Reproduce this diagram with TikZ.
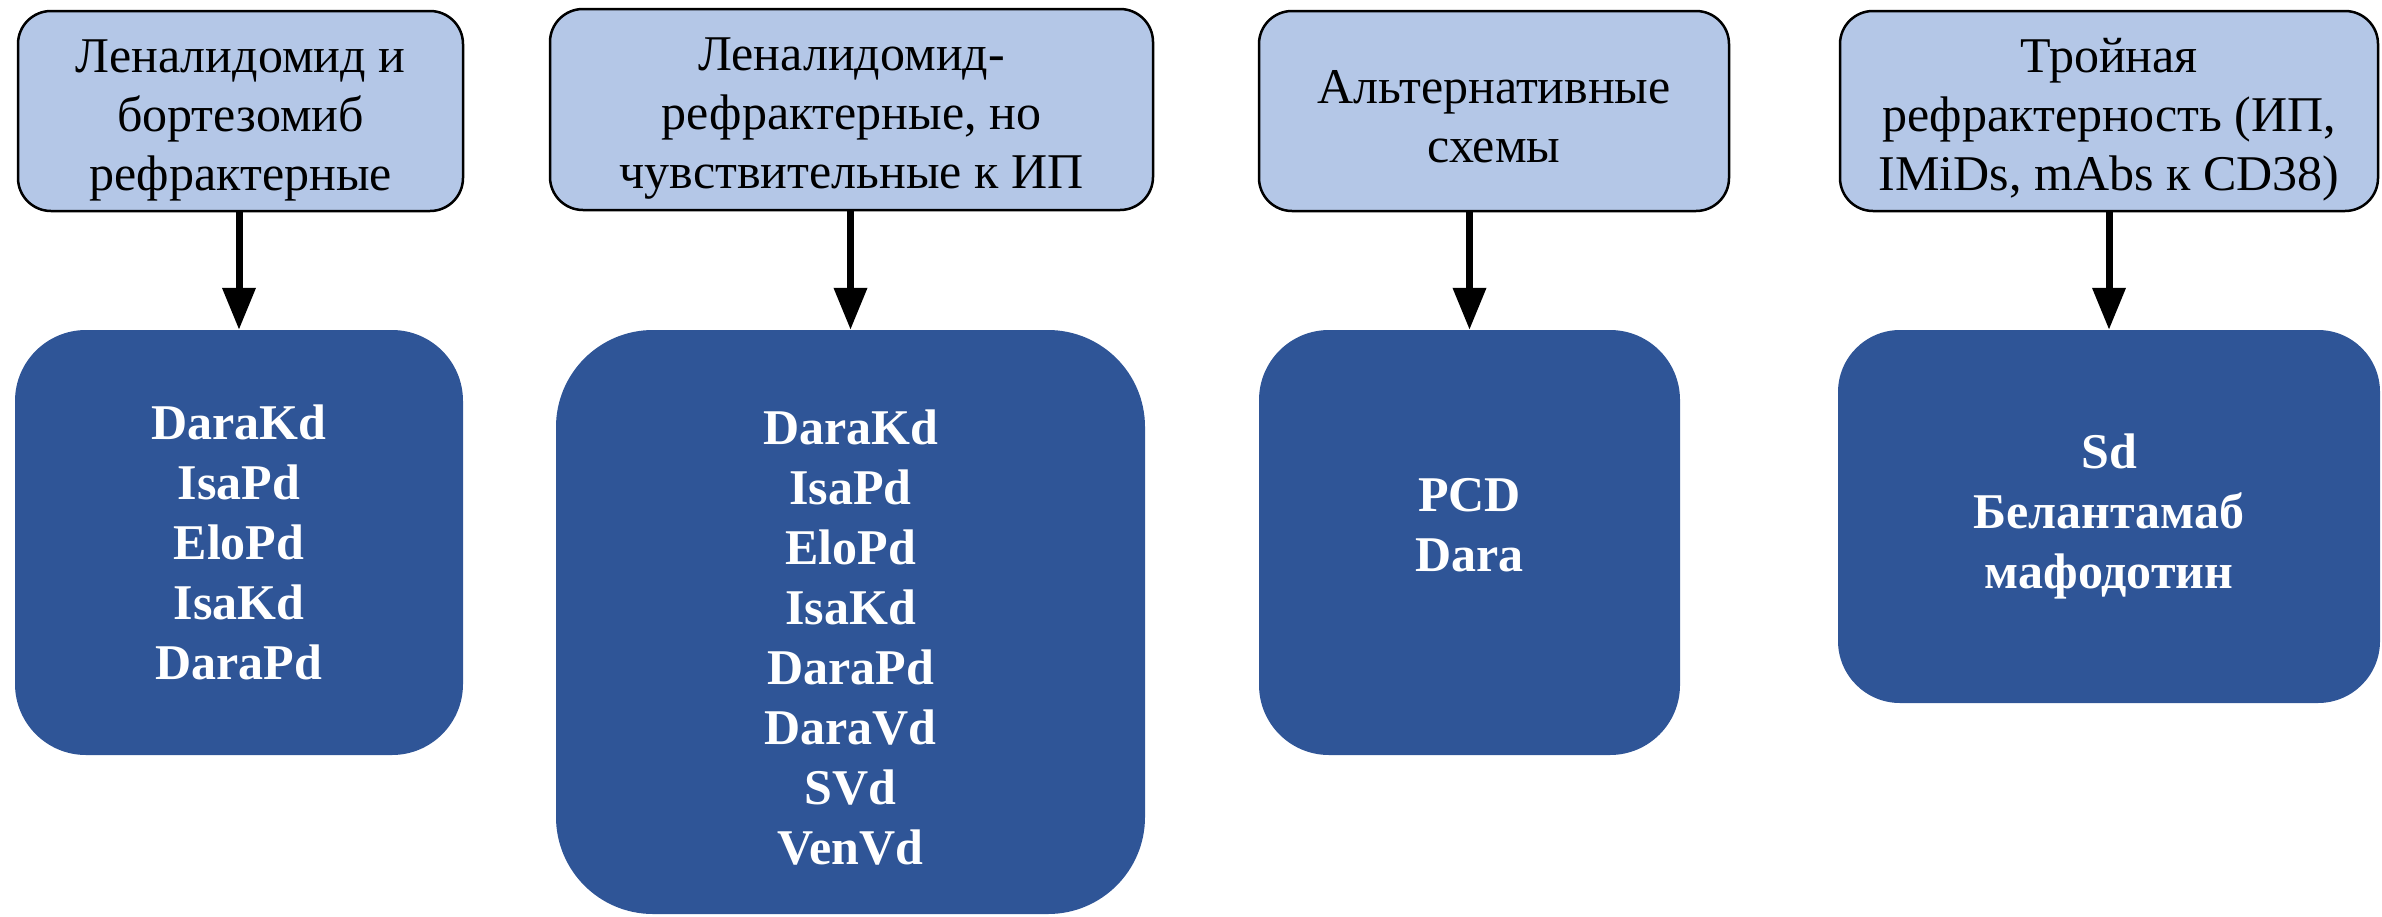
\documentclass[tikz,border=0pt]{standalone}
\usepackage{fontspec}
\setmainfont{Liberation Serif}
\usetikzlibrary{arrows.meta}
\definecolor{lightbox}{HTML}{B4C7E7}
\definecolor{darkbox}{HTML}{2F5597}
\begin{document}
\begin{tikzpicture}[x=1pt,y=-1pt,
  headbox/.style={draw=black,line width=2.5pt,fill=lightbox,rounded corners=33pt,inner sep=0pt},
  headtext/.style={align=center,inner sep=0pt,font=\fontsize{50}{59}\selectfont,text=black},
  drugbox/.style={fill=darkbox,draw=none,inner sep=0pt},
  drugtext/.style={align=center,inner sep=0pt,font=\fontsize{50}{60}\selectfont\bfseries,text=white},
  flow/.style={line width=7pt,-{Triangle[width=32pt,length=42pt]}}]
\useasboundingbox (0,0) rectangle (2382,916);
% header boxes
\node[headbox,minimum width=445pt,minimum height=200pt] (L1) at (240.5,111) {};
\node[headtext] (L1t) at (240.5,120) {Леналидомид и\\бортезомиб\\рефрактерные};
\node[headbox,minimum width=603pt,minimum height=201pt] (L2) at (851.5,109.5) {};
\node[headtext] (L2t) at (851.5,118.5) {Леналидомид-\\рефрактерные, но\\чувствительные к ИП};
\node[headbox,minimum width=470pt,minimum height=200pt] (L3) at (1494,111) {};
\node[headtext] (L3t) at (1494,117) {Альтернативные\\схемы};
\node[headbox,minimum width=538pt,minimum height=200pt] (L4) at (2109,111) {};
\node[headtext] (L4t) at (2109,120) {Тройная\\рефрактерность (ИП,\\IMiDs, mAbs к CD38)};
% drug boxes
\node[drugbox,rounded corners=71pt,minimum width=448pt,minimum height=425pt] (D1) at (239,542.5) {};
\node[drugtext] (D1t) at (239,542.5) {DaraKd\\IsaPd\\EloPd\\IsaKd\\DaraPd};
\node[drugbox,rounded corners=97pt,minimum width=589pt,minimum height=584pt] (D2) at (850.5,622) {};
\node[drugtext] (D2t) at (850.5,638) {DaraKd\\IsaPd\\EloPd\\IsaKd\\DaraPd\\DaraVd\\SVd\\VenVd};
\node[drugbox,rounded corners=70pt,minimum width=421pt,minimum height=425pt] (D3) at (1469.5,542.5) {};
\node[drugtext] (D3t) at (1469.5,525.5) {PCD\\Dara};
\node[drugbox,rounded corners=62pt,minimum width=542pt,minimum height=373pt] (D4) at (2109,516.5) {};
\node[drugtext] (D4t) at (2109,516.5) {Sd\\Белантамаб\\мафодотин};
% arrows
\foreach \a/\b in {L1/D1,L2/D2,L3/D3,L4/D4}
  \draw[flow] (\b.north |- \a.south) -- (\b.north);
\end{tikzpicture}
\end{document}
